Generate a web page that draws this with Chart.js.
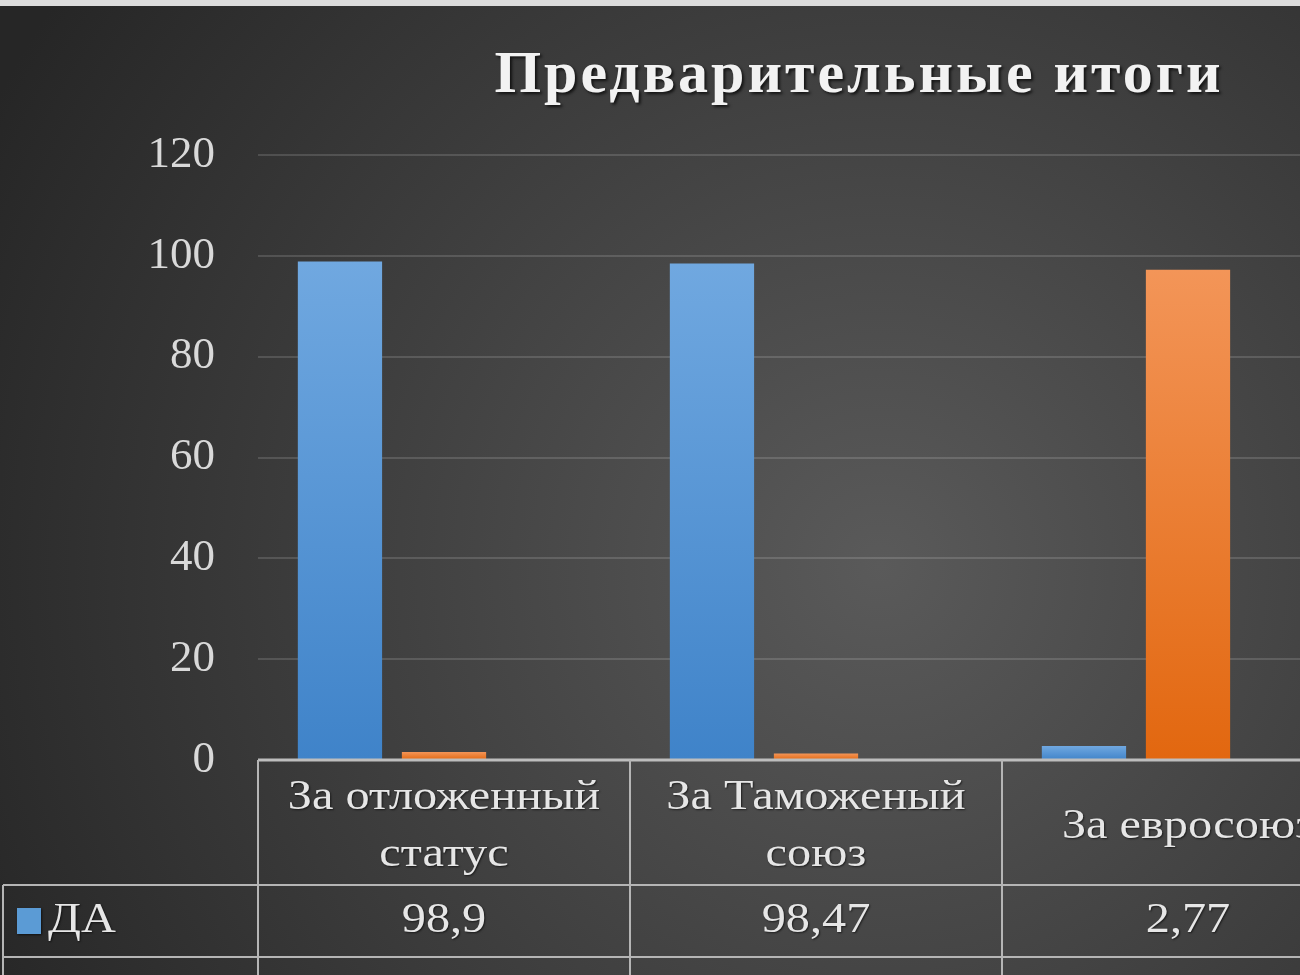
<!DOCTYPE html>
<html>
<head>
<meta charset="utf-8">
<script src="https://cdn.jsdelivr.net/npm/chart.js@4.4.1/dist/chart.umd.min.js"></script>
<style>
  body { margin: 0; background: #dcdcdc; }
  #frame { position: relative; width: 1300px; height: 975px; overflow: hidden; background: #dcdcdc; }
  #holder { position: absolute; left: 0; top: 6px; width: 1718px; height: 1100px; }
</style>
</head>
<body>
<div id="frame">
  <div id="holder"><canvas id="results"></canvas></div>
</div>
<script>
// chart data
const chartTitle = "Предварительные итоги";
const categories = [["За отложенный", "статус"], ["За Таможеный", "союз"], ["За евросоюз"]];
const seriesNames = ["ДА", "НЕТ", ""];
const yesValues = [98.9, 98.47, 2.77];
const noValues = [1.6, 1.28, 97.23];
const otherValues = [null, null, null];
const yTicks = [0, 20, 40, 60, 80, 100, 120];

const serif = "'Liberation Serif', 'DejaVu Serif', serif";
const keyColors = ["#5b9bd5", "#ed7d31", "#a5a5a5"];

// gradient per bar, from its top down to zero
function barGradient(top, bottom) {
    return function (context) {
        const chart = context.chart;
        if (!chart.chartArea || context.raw == null) return bottom;
        const y0 = chart.scales.y.getPixelForValue(0);
        const y1 = chart.scales.y.getPixelForValue(context.raw);
        const g = chart.ctx.createLinearGradient(0, y1, 0, y0);
        g.addColorStop(0, top);
        g.addColorStop(1, bottom);
        return g;
    };
}

function fmt(v) {
    return v == null ? "" : String(v).replace(".", ",");
}

// the source picture is a bit wider than tall, so stretch table text
function wideText(ctx, text, x, y, align) {
    ctx.save();
    ctx.translate(x, y);
    ctx.scale(1.15, 1);
    ctx.textAlign = align;
    ctx.fillText(text, 0, 0);
    ctx.restore();
}

// dark radial background like the office theme
const backgroundPlugin = {
    id: "darkBackground",
    beforeDraw(chart) {
        const ctx = chart.ctx;
        const g = ctx.createRadialGradient(880, 560, 0, 880, 560, 1000);
        g.addColorStop(0, "#5a5a5a");
        g.addColorStop(1, "#262626");
        ctx.save();
        ctx.fillStyle = g;
        ctx.fillRect(0, 0, chart.width, chart.height);
        ctx.restore();
    }
};

// title with spacing and shadow
const titlePlugin = {
    id: "spacedTitle",
    afterDraw(chart) {
        const ctx = chart.ctx;
        ctx.save();
        ctx.font = "bold 60px " + serif;
        ctx.letterSpacing = "3px";
        ctx.textAlign = "center";
        ctx.textBaseline = "alphabetic";
        ctx.shadowColor = "rgba(0,0,0,0.7)";
        ctx.shadowOffsetX = 2;
        ctx.shadowOffsetY = 2;
        ctx.shadowBlur = 3;
        ctx.fillStyle = "#f2f2f2";
        ctx.fillText(chartTitle, chart.width / 2, 86);
        ctx.restore();
    }
};

// data table under the plot, laid out on the category scale
const dataTablePlugin = {
    id: "dataTable",
    afterDraw(chart) {
        const ctx = chart.ctx;
        const area = chart.chartArea;
        const n = categories.length;
        const cellW = (area.right - area.left) / n;
        const headerH = 125;
        const rowH = 72;
        const rows = chart.data.datasets.filter(d => d.label !== "");
        const tableBottom = area.bottom + headerH + rows.length * rowH;

        ctx.save();
        ctx.strokeStyle = "#bdbdbd";
        ctx.lineWidth = 3;
        ctx.beginPath();
        ctx.moveTo(area.left, area.bottom);
        ctx.lineTo(area.right, area.bottom);
        ctx.stroke();

        ctx.lineWidth = 2;
        ctx.strokeStyle = "#b5b5b5";
        ctx.beginPath();
        for (let r = 0; r <= rows.length; r++) {
            const y = area.bottom + headerH + r * rowH;
            ctx.moveTo(3, y);
            ctx.lineTo(area.right, y);
        }
        for (let i = 0; i <= n; i++) {
            const x = area.left + i * cellW;
            ctx.moveTo(x, area.bottom);
            ctx.lineTo(x, tableBottom);
        }
        ctx.moveTo(3, area.bottom + headerH);
        ctx.lineTo(3, tableBottom);
        ctx.stroke();

        ctx.fillStyle = "#e6e6e6";
        ctx.font = "42px " + serif;
        ctx.textBaseline = "middle";
        ctx.shadowColor = "rgba(0,0,0,0.6)";
        ctx.shadowOffsetX = 1;
        ctx.shadowOffsetY = 1;
        ctx.shadowBlur = 2;
        const headMid = area.bottom + headerH / 2;
        categories.forEach((lines, i) => {
            const cx = chart.scales.x.getPixelForValue(i);
            const lh = 57;
            lines.forEach((line, k) => {
                const y = headMid + (k - (lines.length - 1) / 2) * lh + 4;
                wideText(ctx, line, cx, y, "center");
            });
        });

        rows.forEach((ds, r) => {
            const mid = area.bottom + headerH + r * rowH + rowH / 2;
            ctx.fillStyle = keyColors[r];
            ctx.fillRect(17, mid - 13, 24, 26);
            ctx.fillStyle = "#e6e6e6";
            wideText(ctx, ds.label, 48, mid, "left");
            ds.data.forEach((v, i) => {
                wideText(ctx, fmt(v), chart.scales.x.getPixelForValue(i), mid, "center");
            });
        });
        ctx.restore();
    }
};

new Chart(document.getElementById("results"), {
    type: "bar",
    data: {
        labels: categories,
        datasets: [
            {
                label: seriesNames[0],
                data: yesValues,
                backgroundColor: barGradient("#70a8e0", "#3f83c9")
            },
            {
                label: seriesNames[1],
                data: noValues,
                backgroundColor: barGradient("#f39558", "#e2670f")
            },
            {
                label: seriesNames[2],
                data: otherValues,
                backgroundColor: keyColors[2]
            }
        ]
    },
    options: {
        responsive: true,
        maintainAspectRatio: false,
        animation: false,
        events: [],
        layout: { padding: { top: 149, left: 0, right: 344, bottom: 346 } },
        categoryPercentage: 0.839,
        barPercentage: 0.81,
        plugins: {
            legend: { display: false },
            title: { display: false },
            tooltip: { enabled: false }
        },
        scales: {
            x: { display: false },
            y: {
                min: 0,
                max: 120,
                afterFit(scale) { scale.width = 258; },
                afterBuildTicks(scale) { scale.ticks = yTicks.map(v => ({ value: v })); },
                border: { display: false },
                grid: { color: "rgba(255,255,255,0.14)", lineWidth: 2, drawTicks: false },
                ticks: {
                    padding: 43,
                    color: "#d9d9d9",
                    font: { family: serif, size: 45 }
                }
            }
        }
    },
    plugins: [backgroundPlugin, titlePlugin, dataTablePlugin]
});
</script>
</body>
</html>
